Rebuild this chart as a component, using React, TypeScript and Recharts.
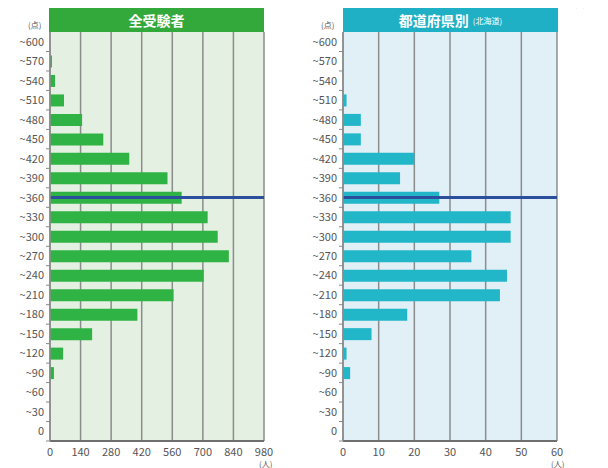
import React from "react";
import { Bar, BarChart, CartesianGrid, ReferenceLine, XAxis, YAxis } from "recharts";

const SCORE_BANDS = [
  "~600", "~570", "~540", "~510", "~480", "~450", "~420", "~390", "~360", "~330", "~300",
  "~270", "~240", "~210", "~180", "~150", "~120", "~90", "~60", "~30", "0",
];
const ALL_EXAMINEES = [0, 9, 23, 64, 147, 244, 363, 538, 603, 722, 768, 819, 704, 566, 400, 193, 60, 18, 0, 0, 0];
const HOKKAIDO = [0, 0, 0, 1, 5, 5, 20, 16, 27, 47, 47, 36, 46, 44, 18, 8, 1, 2, 0, 0, 0];
const ALL_TICKS = [0, 140, 280, 420, 560, 700, 840, 980];
const PREF_TICKS = [0, 10, 20, 30, 40, 50, 60];
const AVERAGE_BAND = "~360";

const FONT = "'Noto Sans CJK JP', 'Noto Sans', sans-serif";

const allData = SCORE_BANDS.map((label, i) => ({ label, value: ALL_EXAMINEES[i] }));
const prefData = SCORE_BANDS.map((label, i) => ({ label, value: HOKKAIDO[i] }));

function ScoreTick(props: any) {
  const { x, y, payload } = props;
  return (
    <g>
      <text x={x} y={y} dy={4} textAnchor="end" fontSize={11} fill="#555" fontFamily={FONT}>
        {payload.value}
      </text>
      <line x1={x + 2} x2={x + 6} y1={y + 9.75} y2={y + 9.75} stroke="#888" />
    </g>
  );
}

type PanelProps = {
  data: { label: string; value: number }[];
  ticks: number[];
  barColor: string;
  bg: string;
  left: number;
};

function Panel({ data, ticks, barColor, bg, left }: PanelProps) {
  return (
    <div style={{ position: "absolute", left, top: 0 }}>
      <BarChart
        width={280}
        height={468}
        data={data}
        layout="vertical"
        margin={{ top: 32, right: 16, bottom: 7, left: 0 }}
      >
        <CartesianGrid horizontal={false} fill={bg} stroke="#8c8c8c" strokeWidth={1.5} />
        <XAxis
          type="number"
          domain={[ticks[0], ticks[ticks.length - 1]]}
          ticks={ticks}
          interval={0}
          height={20}
          tickLine={false}
          axisLine={{ stroke: "#6f6f6f", strokeWidth: 2 }}
          tick={{ fontSize: 11, fill: "#555", fontFamily: FONT }}
          tickMargin={1}
        />
        <YAxis
          type="category"
          dataKey="label"
          width={50}
          interval={0}
          tickSize={0}
          tickMargin={6}
          axisLine={{ stroke: "#8c8c8c", strokeWidth: 1.5 }}
          tick={<ScoreTick />}
        />
        <Bar dataKey="value" fill={barColor} barSize={12} isAnimationActive={false} />
        <ReferenceLine y={AVERAGE_BAND} stroke="#2b4f9c" strokeWidth={3} />
      </BarChart>
    </div>
  );
}

function Header({ left, color, children }: { left: number; color: string; children: React.ReactNode }) {
  return (
    <div
      style={{
        position: "absolute",
        left,
        top: 8,
        width: 215,
        height: 24,
        background: color,
        color: "#fff",
        fontFamily: FONT,
        fontWeight: 700,
        fontSize: 14,
        display: "flex",
        alignItems: "center",
        justifyContent: "center",
        gap: 4,
      }}
    >
      {children}
    </div>
  );
}

const unitStyle: React.CSSProperties = {
  position: "absolute",
  fontFamily: FONT,
  fontSize: 8,
  lineHeight: "9px",
  color: "#555",
};

export default function App() {
  return (
    <div
      style={{
        position: "relative",
        width: 608,
        height: 468,
        margin: "-8px 0 0 -8px",
        overflow: "hidden",
        background: "#fff",
      }}
    >
      <Panel data={allData} ticks={ALL_TICKS} barColor="#2fb344" bg="#e4f0e1" left={0} />
      <Panel data={prefData} ticks={PREF_TICKS} barColor="#22b6c9" bg="#e1eff6" left={293} />
      <Header left={49} color="#33a93b">全受験者</Header>
      <Header left={343} color="#1fb0c6">
        <span>都道府県別</span>
        <span style={{ fontSize: 8, fontWeight: 400 }}>(北海道)</span>
      </Header>
      <div style={{ ...unitStyle, left: 28, top: 20 }}>(点)</div>
      <div style={{ ...unitStyle, left: 321, top: 20 }}>(点)</div>
      <div style={{ ...unitStyle, left: 259, top: 459 }}>(人)</div>
      <div style={{ ...unitStyle, left: 551, top: 459 }}>(人)</div>
      <div style={{ position: "absolute", left: 519, top: 2, width: 28, height: 3, background: "#2b4f9c" }} />
      <div style={{ ...unitStyle, left: 552, top: 0, fontSize: 7, lineHeight: "8px", color: "#777" }}>都道府県平均</div>
    </div>
  );
}
